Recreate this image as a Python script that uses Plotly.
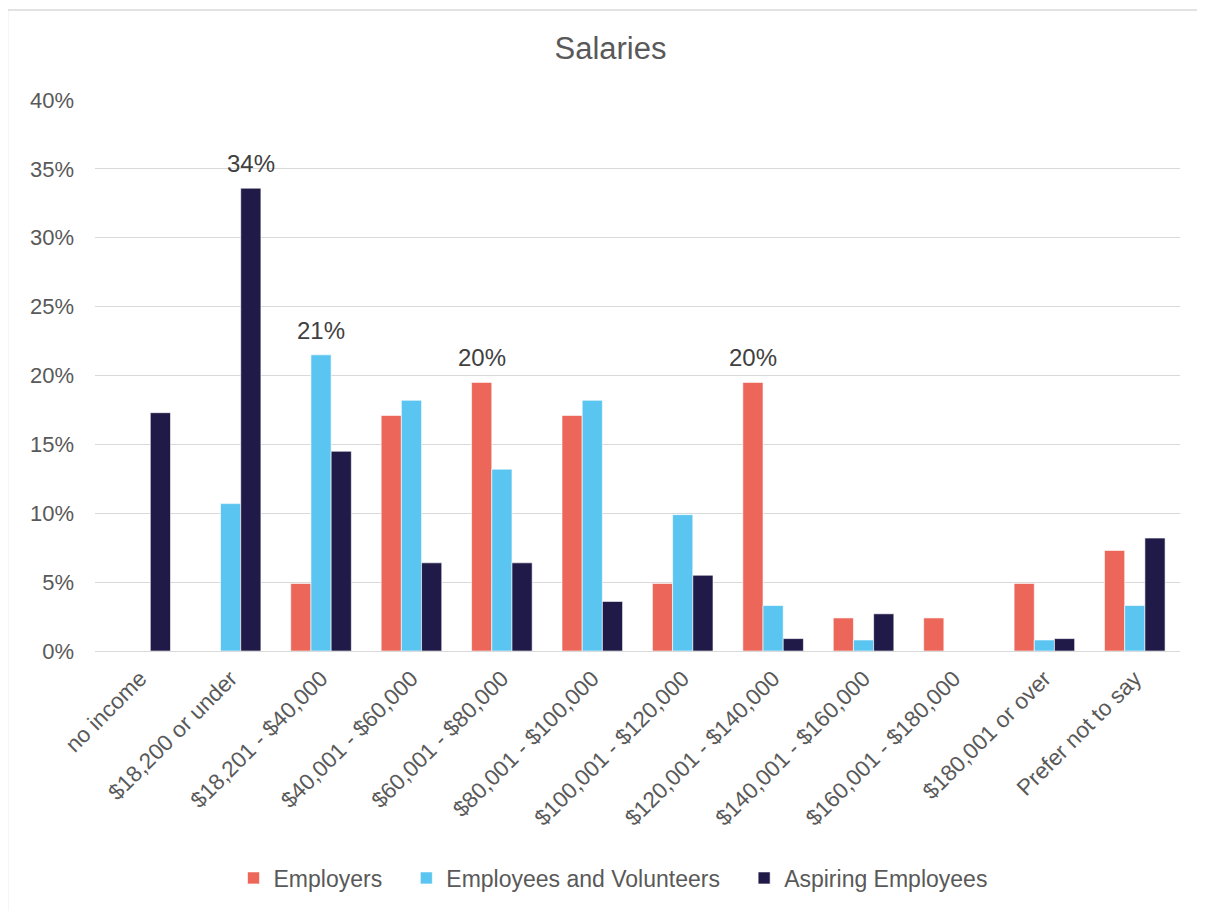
import plotly.graph_objects as go

categories = ["no income", "$18,200 or under", "$18,201 - $40,000", "$40,001 - $60,000",
              "$60,001 - $80,000", "$80,001 - $100,000", "$100,001 - $120,000",
              "$120,001 - $140,000", "$140,001 - $160,000", "$160,001 - $180,000",
              "$180,001 or over", "Prefer not to say"]

employers = [0, 0, 0.049, 0.171, 0.195, 0.171, 0.049, 0.195, 0.024, 0.024, 0.049, 0.073]
employees = [0, 0.107, 0.215, 0.182, 0.132, 0.182, 0.099, 0.033, 0.008, 0, 0.008, 0.033]
aspiring = [0.173, 0.336, 0.145, 0.064, 0.064, 0.036, 0.055, 0.009, 0.027, 0, 0.009, 0.082]

employers_labels = ["", "", "", "", "20%", "", "", "20%", "", "", "", ""]
employees_labels = ["", "", "21%", "", "", "", "", "", "", "", "", ""]
aspiring_labels = ["", "34%", "", "", "", "", "", "", "", "", "", ""]

series_names = ["Employers", "Employees and Volunteers", "Aspiring Employees"]

# page offset (body margin of the html page)
OFF = 8
W, H = 1205, 911
L, R, T, B = 95 - OFF, 33, 100 - OFF, 268
BARGAP = 0.33

pw = W - L - R
ph = H - T - B


def px_x(p):
    return (p - OFF - L) / pw


def px_y(p):
    return (H - B - (p - OFF)) / ph


colors = ["#EC6659", "#5BC5F1", "#1F1A47"]
series = list(zip(series_names, [employers, employees, aspiring],
                  [employers_labels, employees_labels, aspiring_labels], colors))

fig = go.Figure()
for k, (name, vals, labels, color) in enumerate(series):
    pad = "&nbsp;" * 3 if k < len(series) - 1 else ""
    fig.add_trace(go.Bar(
        name=name + pad, x=categories, y=vals,
        marker=dict(color=color, line=dict(color="rgba(255,255,255,0.6)", width=1)),
        hovertemplate=name + ": %{y:.1%}<extra></extra>",
    ))

# data labels as annotations above the relevant bars
cat_w = pw / len(categories)
bar_w = cat_w * (1 - BARGAP) / len(series)
annotations = []
for k, (name, vals, labels, color) in enumerate(series):
    shift = (k - (len(series) - 1) / 2) * bar_w
    for c, v, lab in zip(categories, vals, labels):
        if lab:
            annotations.append(dict(
                x=c, y=v, xref="x", yref="y", text=lab, showarrow=False,
                xshift=shift, yshift=9, yanchor="bottom", xanchor="center",
                font=dict(size=24, color="#404040", family="Liberation Sans, Arial"),
            ))

fig.update_layout(
    width=W, height=H,
    margin=dict(l=L, r=R, t=T, b=B, autoexpand=False),
    paper_bgcolor="white", plot_bgcolor="white",
    barmode="group", bargap=BARGAP, bargroupgap=0,
    font=dict(family="Liberation Sans, Arial", color="#595959", size=22),
    title=dict(text="Salaries", x=0.5, xanchor="center", y=1 - (48 - OFF) / H, yanchor="middle",
               font=dict(size=31, color="#595959")),
    xaxis=dict(tickangle=-45, showgrid=False, showline=False, ticks="", automargin=False,
               ticklabelstandoff=9, tickfont=dict(size=22.5, color="#595959")),
    yaxis=dict(range=[0, 0.40], dtick=0.05, tickformat=".0%", showgrid=True, automargin=False,
               gridcolor="#D9D9D9", gridwidth=1, zeroline=True, zerolinecolor="#D9D9D9",
               zerolinewidth=1, showline=False, ticks="", ticklabelstandoff=20,
               tickfont=dict(size=22, color="#595959")),
    legend=dict(orientation="h", x=px_x(613), xanchor="center", y=px_y(878), yanchor="middle",
                font=dict(size=23, color="#595959"), traceorder="normal", itemwidth=30),
    showlegend=True,
    annotations=annotations,
    shapes=[dict(type="rect", xref="paper", yref="paper",
                 x0=px_x(7.5), x1=px_x(1230), y0=px_y(940), y1=px_y(10),
                 line=dict(color="#D9D9D9", width=1.5), layer="below")],
)

fig.write_html("out.html")
